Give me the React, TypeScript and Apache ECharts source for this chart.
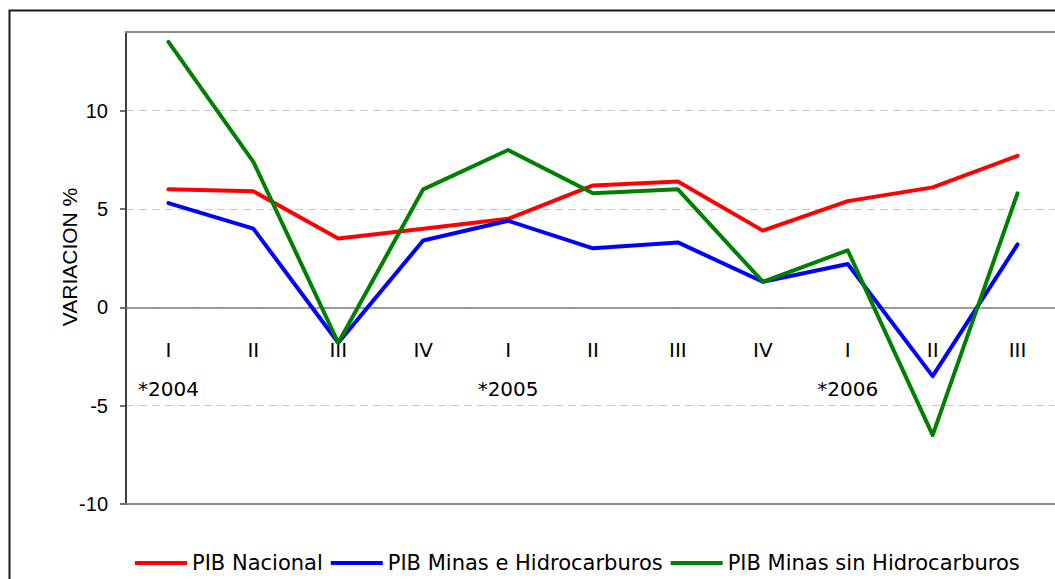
import React, { useEffect, useRef } from "react";
import * as echarts from "echarts";

const quarters = ["I", "II", "III", "IV", "I", "II", "III", "IV", "I", "II", "III"];
const yearLabels = ["*2004", "", "", "", "*2005", "", "", "", "*2006", "", ""];
const pibNacional = [6.0, 5.9, 3.5, 4.0, 4.5, 6.2, 6.4, 3.9, 5.4, 6.1, 7.7];
const pibMinasHidro = [5.3, 4.0, -1.8, 3.4, 4.4, 3.0, 3.3, 1.3, 2.2, -3.5, 3.2];
const pibMinasSinHidro = [13.5, 7.4, -1.8, 6.0, 8.0, 5.8, 6.0, 1.3, 2.9, -6.5, 5.8];
const seriesNames = ["PIB Nacional", "PIB Minas e Hidrocarburos", "PIB Minas sin Hidrocarburos"];
const seriesColors = ["#ff0000", "#0000ff", "#008000"];
const yTicks = [-10, -5, 0, 5, 10];
const yMin = -10;
const yMax = 14;

export default function App() {
  const ref = useRef<HTMLDivElement>(null);
  useEffect(() => {
    if (!ref.current) return;
    const chart = echarts.init(ref.current, undefined, { renderer: "svg" });
    const data = [pibNacional, pibMinasHidro, pibMinasSinHidro];
    const gridHeight = 472;
    const zeroOffset = -(gridHeight * (0 - yMin)) / (yMax - yMin);
    const borderAxis = (position: string) => ({
      type: "category",
      data: quarters,
      position,
      axisLine: { show: true, onZero: false, lineStyle: { color: "#8c8c8c", width: 2 } },
      axisTick: { show: false },
      axisLabel: { show: false },
      splitLine: { show: false },
    });
    chart.setOption({
      animation: false,
      backgroundColor: "#ffffff",
      graphic: [
        {
          type: "rect",
          z: -10,
          shape: { x: 9.5, y: 10.5, width: 1100, height: 620 },
          style: { fill: "none", stroke: "#1a1a1a", lineWidth: 2 },
        },
        {
          type: "text",
          x: 69,
          y: 257,
          rotation: Math.PI / 2,
          style: {
            text: "VARIACION %",
            font: '21px "Liberation Sans"',
            fill: "#000",
            textAlign: "center",
            textVerticalAlign: "middle",
          },
        },
      ],
      grid: {
        left: 126,
        top: 32,
        width: 934,
        height: gridHeight,
        show: false,
        containLabel: false,
        outerBoundsMode: "none",
      },
      legend: {
        left: 130,
        top: 546,
        itemWidth: 52,
        itemHeight: 4,
        itemGap: 8,
        icon: "rect",
        textStyle: { fontFamily: "DejaVu Sans", fontSize: 21, color: "#000", lineHeight: 24 },
        data: seriesNames,
      },
      xAxis: [
        {
          type: "category",
          data: quarters,
          boundaryGap: true,
          position: "bottom",
          offset: zeroOffset,
          axisLine: { show: true, onZero: false, lineStyle: { color: "#808080", width: 1.5 } },
          axisTick: { show: false },
          axisLabel: {
            interval: 0,
            margin: 23,
            fontFamily: "DejaVu Sans",
            fontSize: 20,
            lineHeight: 39,
            color: "#000",
            formatter: (v: string, i: number) => (yearLabels[i] ? v + "\n" + yearLabels[i] : v),
          },
          splitLine: { show: false },
        },
        borderAxis("bottom"),
        borderAxis("top"),
      ],
      yAxis: {
        type: "value",
        min: yMin,
        max: yMax,
        interval: 5,
        axisLine: { show: true, onZero: false, lineStyle: { color: "#404040", width: 2 } },
        axisTick: {
          show: true,
          length: 6,
          lineStyle: { color: "#404040", width: 1.5 },
          customValues: yTicks,
        },
        axisLabel: {
          margin: 18,
          fontFamily: "Liberation Sans",
          fontSize: 20,
          color: "#000",
          showMaxLabel: false,
        },
        splitLine: { show: true, lineStyle: { color: "#c8c8c8", width: 1, type: [8, 5] } },
      },
      series: seriesNames.map((name, k) => ({
        name,
        type: "line",
        data: data[k],
        symbol: "none",
        color: seriesColors[k],
        lineStyle: { color: seriesColors[k], width: 4, cap: "round", join: "round" },
      })),
    });
    return () => chart.dispose();
  }, []);
  return (
    <div
      ref={ref}
      style={{ position: "absolute", left: 0, top: 0, width: 1055, height: 579, overflow: "hidden" }}
    />
  );
}
